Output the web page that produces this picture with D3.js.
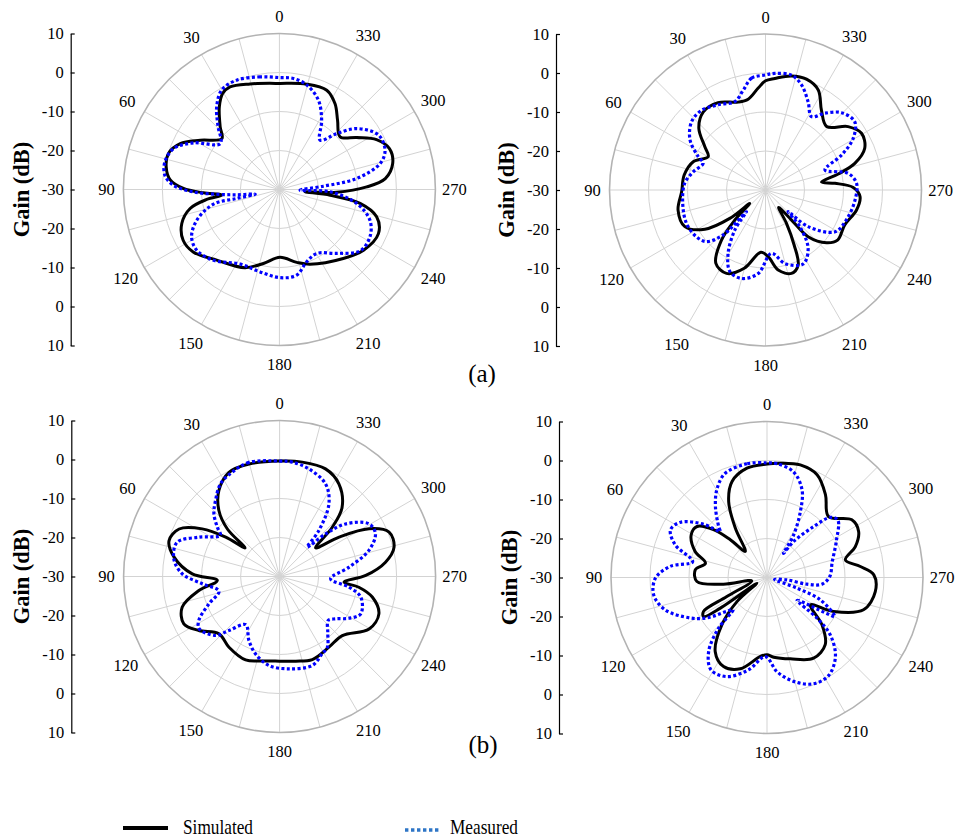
<!DOCTYPE html>
<html>
<head>
<meta charset="utf-8">
<style>
  body { margin: 0; background: #fff; }
  svg text { font-family: "Liberation Serif", "DejaVu Serif", serif; }
  .grid { fill: none; stroke: #d3d3d3; stroke-width: 1; }
  .rim { fill: none; stroke: #b3b3b3; stroke-width: 1.6; }
  .sim { fill: none; stroke: #000; stroke-width: 3; stroke-linejoin: round; }
  .meas { fill: none; stroke: #0000ff; stroke-width: 3.2; stroke-dasharray: 3 2.4; }
</style>
</head>
<body>
<svg width="958" height="839" font-family="Liberation Serif"></svg>
<script src="https://d3js.org/d3.v7.min.js"></script>
<script>
// tick labels of the left gain axis (top to bottom) and of the angle ring
const gainTicks = ["10", "0", "-10", "-20", "-30", "-20", "-10", "0", "10"];
const angleTicks = [0, 30, 60, 90, 120, 150, 180, 210, 240, 270, 300, 330];
const ringLevels = [-20, -10, 0];

// [angle in deg (ccw from top), gain in dB]
const aLeftSim = [[0,-2.8],[15.5,-1.9],[25.7,-0.8],[30.6,-1.4],[36,-3.8],[43.4,-7.9],[48.5,-10.3],[58.1,-6.1],[65.2,-2.0],[72,-0.1],[78.7,-0.4],[85,-1.9],[89.4,-5.4],[92.5,-10.5],[95.6,-15.1],[97.8,-11.2],[102,-6.6],[109.2,-3.5],[117.8,-2.1],[125.9,-2.7],[138.4,-5.8],[156.2,-8.1],[167.8,-10.6],[180.5,-12.6],[193.4,-10.8],[202.3,-9.3],[222.8,-5.9],[234.2,-3.4],[246,-2.2],[254.3,-4.1],[260.2,-9.0],[263.6,-16.9],[265,-23.4],[267.3,-15.3],[271.7,-7.6],[275.9,-2.7],[282.9,-0.2],[290.4,0.1],[297.2,-2.0],[303.9,-6.1],[311,-9.4],[320,-6.8],[327,-3.8],[334.5,-1.8],[345.5,-2.1]];
const aLeftMeas = [[0,-1.3],[9.7,-0.7],[21.3,0.1],[30.1,-0.5],[37.2,-3.4],[43.8,-7.2],[52.2,-10.8],[61.5,-4.9],[68.9,-0.9],[76.4,0.2],[82.9,-0.4],[87.7,-2.8],[91.6,-7.9],[94.3,-13.8],[97.1,-19],[100.9,-23.7],[101.9,-18.8],[102.5,-12.7],[110.4,-7.4],[118.4,-4.4],[126.3,-3.7],[137,-5.2],[152.2,-8.4],[166.8,-8.3],[180.4,-7.4],[191.4,-7.6],[200.7,-10.2],[210.3,-11],[221.9,-8],[232.7,-4],[242.4,-3.8],[251.3,-5.5],[259.7,-9.8],[267.4,-17],[268.2,-24.7],[274.3,-18.7],[278.1,-10],[284.5,-3.3],[290.4,-1.1],[298.8,-1.0],[308.3,-4.8],[314.3,-9.5],[320.5,-13.6],[328.6,-9.2],[336.4,-5],[345.3,-2.3],[352.8,-1.3]];

const aRightSim = [[0,-2.0],[4.1,-3.8],[10.8,-6.3],[17.3,-6.4],[28.5,-4.5],[38.5,-4.4],[47.2,-6.7],[54.5,-10.9],[59.8,-13],[68.6,-10.1],[79.6,-8.8],[91.1,-8.5],[102.9,-7.0],[114.4,-7.3],[122.9,-11.5],[128.5,-18.3],[130.4,-24.7],[134.4,-19],[138.7,-12.9],[145.9,-7.3],[154.9,-6.4],[164.8,-9.2],[175.7,-14],[182.3,-12.9],[189,-9.2],[197.3,-7.6],[203.5,-9.0],[207.5,-14.1],[212.2,-19.9],[217,-24.4],[220.9,-19.8],[222.4,-13.8],[229.2,-9.3],[235.2,-7.5],[246.2,-7.8],[257.6,-6.1],[266,-5.7],[271.7,-7.5],[275.5,-12.1],[278.1,-15.5],[282.4,-10.9],[286.6,-6.1],[292.8,-2.4],[300.6,-1.4],[307.5,-3.3],[316.1,-7.4],[325,-5],[332.2,-1],[339.7,0.3],[347.2,0.0],[355.2,-1.3]];
const aRightMeas = [[0,-0.5],[7.1,-1.1],[12.6,-3.8],[19.1,-6],[29.1,-5],[38.7,-3.8],[47.3,-4.2],[56.5,-6.8],[63.7,-10.8],[66.8,-12.6],[75.8,-10.9],[85.3,-9.2],[99.1,-8.5],[112.9,-8],[124.1,-8.6],[131.2,-9.9],[136.7,-14.2],[138,-20.8],[138.7,-22.6],[142.5,-17.1],[149.5,-11.1],[156.4,-7.2],[164.8,-6.5],[175,-8.5],[185.4,-13.7],[194.8,-10.5],[207,-8.7],[216.2,-11.5],[223.1,-17.1],[226.3,-22],[229.3,-15.6],[239,-9.2],[249.7,-7.9],[263.6,-6.9],[274.2,-6.6],[281.4,-8.4],[288.6,-13.9],[294.7,-8.5],[300.5,-3.9],[307.4,-1.2],[315.5,-2.2],[322.3,-5.1],[327.9,-7.8],[334.2,-4.9],[341.1,-1.5],[347.3,0.2],[355.4,0.0]];

const bLeftSim = [[0,-0.4],[15.2,-0.1],[25.9,-0.3],[35.2,-3],[42.6,-7],[47.7,-11.9],[50.4,-18.5],[53.9,-12.9],[58.4,-6.7],[64.7,-1.5],[72,-0.2],[79.6,-2.5],[88.3,-7.6],[93.7,-14],[99.8,-9],[107.5,-3.8],[116.3,-2.6],[123.8,-5.1],[133.4,-8.6],[144.4,-7.7],[157.8,-6.9],[168.4,-7.9],[180,-8.3],[190.8,-7.9],[201.5,-7.1],[214.9,-7.9],[226.7,-7.9],[239.6,-3.4],[249.4,-2.8],[257.4,-5.6],[262.3,-9.5],[265,-13.4],[270.7,-7.9],[277.7,-2.6],[284.4,0.3],[292.1,0.3],[298.1,-4],[303.5,-11.7],[308.5,-18.2],[313.1,-11.5],[317.9,-6.1],[327.4,-1.8],[336.9,0],[348.8,-0.1]];
const bLeftMeas = [[0,-0.4],[15,0.3],[24.4,-0.6],[32.5,-1.8],[40.1,-4.5],[46.3,-6.7],[51.6,-9.6],[55.2,-11.5],[64,-7],[71.5,-2.3],[80.5,-2.5],[88.4,-5],[95.4,-10.1],[103.6,-14],[111.1,-10.6],[118.6,-6.4],[123,-5.4],[132.7,-7.7],[136.8,-11],[144.9,-14.9],[154.4,-11.8],[162.8,-9.2],[173.2,-7],[185.8,-6.2],[200.2,-5.7],[208.9,-7.4],[214,-8.1],[220.1,-10.8],[228,-13.2],[232.9,-12],[239,-9.2],[245.3,-7.1],[255.7,-8.5],[261.3,-12],[267.4,-16.9],[277.7,-12],[286.2,-6.2],[294,-3.1],[300.5,-3.4],[308.6,-8.4],[312.8,-13.9],[316.7,-19.7],[319.5,-14.5],[325.8,-7.5],[333.6,-3.5],[344.8,-1.4],[353.7,-0.5]];

const bRightSim = [[0,-0.9],[10.4,-1.5],[20,-3.8],[26.8,-8.2],[32.7,-15],[39.8,-21.3],[44.2,-16.5],[48.2,-11.6],[53.9,-7.8],[60.7,-7.7],[70.1,-10.4],[76.9,-13.8],[83.9,-11.5],[93.3,-12],[98.7,-18.7],[102.5,-26],[115.4,-18.6],[118.2,-11.5],[121.6,-10.9],[123.3,-15.7],[119.5,-27],[128.7,-20.2],[136.4,-13.2],[145.1,-6.8],[154,-4.6],[163.7,-5.6],[175.2,-9.7],[180,-10.2],[184.8,-9.5],[196,-8.3],[210,-6.1],[220.9,-7.2],[229.3,-11.4],[237.8,-16.8],[243,-10.8],[251.5,-3.9],[262.6,-2],[271.4,-2.6],[276.7,-5.9],[282.7,-9.4],[289.3,-6],[296.7,-3.7],[304.2,-3.7],[314.7,-7.8],[324.8,-4],[334,-0.7],[343.5,0.1],[353.3,-0.5]];
const bRightMeas = [[0,-0.6],[10,-0.4],[21.8,-1.2],[29.2,-3.8],[36,-7.5],[43.5,-12],[45.5,-13.1],[49.9,-8.8],[57.4,-3.7],[63.7,-2.4],[70.4,-5],[78,-10.5],[83.5,-5],[90.3,-1.4],[98.7,-0.6],[107.6,-2.6],[117.9,-7.8],[124,-11.5],[130,-16.5],[133.5,-18],[136.3,-12],[141.8,-5.8],[148.8,-2.3],[158,-2.6],[168.8,-5.9],[178.8,-9.7],[186.1,-5.7],[194.4,-2.5],[203.3,-0.3],[212.1,-0.3],[220.9,-3.2],[227.8,-8.1],[230.9,-13.5],[232.9,-20.3],[238.9,-12.1],[240,-9.9],[247.3,-15.2],[250.4,-21.8],[256,-28],[263.3,-24.9],[260.5,-19.6],[263.1,-15.8],[270.9,-13.9],[283.5,-12.8],[297.4,-10],[309.1,-6.6],[313.5,-7.6],[317.5,-12.3],[323.5,-18.5],[325.6,-22.5],[328,-17.1],[333.2,-11],[338.2,-5.8],[345.8,-2.1],[355,-0.7]];

var svg = d3.select("svg");
var R = 156;
var serif = "Liberation Serif, DejaVu Serif, serif";

var panels = [
  {cx: 279.4, cy: 189.5, ax: 70.7, sim: aLeftSim, meas: aLeftMeas},
  {cx: 765.5, cy: 190, ax: 556, sim: aRightSim, meas: aRightMeas},
  {cx: 279.6, cy: 576.5, ax: 71.3, sim: bLeftSim, meas: bLeftMeas},
  {cx: 767, cy: 577.5, ax: 559, sim: bRightSim, meas: bRightMeas}
];

var rad = Math.PI / 180;
var r = d3.scaleLinear().domain([-30, 10]).range([0, R]).clamp(true);

var line = d3.lineRadial()
  .curve(d3.curveCatmullRomClosed.alpha(0.5))
  .angle(function (d) { return -d[0] * rad; })
  .radius(function (d) { return r(d[1]); });

function labelOffset(d) {
  return R + 17 + 3 * Math.abs(Math.sin(2 * d * rad)) + (String(d).length === 3 ? 2 : 0);
}

panels.forEach(function (p) {
  var g = svg.append("g").attr("transform", "translate(" + p.cx + "," + p.cy + ")");

  g.selectAll(".ring").data(ringLevels).enter().append("circle")
    .attr("class", "grid").attr("r", function (d) { return r(d); });

  g.selectAll(".spoke").data(d3.range(0, 360, 15)).enter().append("line")
    .attr("class", "grid")
    .attr("x2", function (d) { return -R * Math.sin(d * rad); })
    .attr("y2", function (d) { return -R * Math.cos(d * rad); });

  g.append("circle").attr("class", "rim").attr("r", r(10));

  g.selectAll(".alab").data(angleTicks).enter().append("text")
    .attr("font-family", serif)
    .attr("font-size", 16.5)
    .attr("text-anchor", "middle")
    .attr("dy", "0.35em")
    .attr("x", function (d) { return -labelOffset(d) * Math.sin(d * rad); })
    .attr("y", function (d) { return -labelOffset(d) * Math.cos(d * rad); })
    .text(function (d) { return d; });

  g.append("path").datum(p.sim).attr("class", "sim").attr("d", line);
  g.append("path").datum(p.meas).attr("class", "meas").attr("d", line);

  // left gain axis
  var y = d3.scaleLinear().domain([0, gainTicks.length - 1]).range([p.cy - R, p.cy + R]);
  var ax = svg.append("g")
    .attr("transform", "translate(" + p.ax + ",0)")
    .call(d3.axisLeft(y)
      .tickValues(d3.range(gainTicks.length))
      .tickFormat(function (i) { return gainTicks[i]; })
      .tickSizeInner(-4)
      .tickSizeOuter(0)
      .tickPadding(7));
  ax.attr("font-family", serif).attr("font-size", 16.5);
  ax.selectAll("path, line").attr("stroke", "#000").attr("stroke-width", 1.2);
  ax.selectAll("text").attr("fill", "#000").attr("font-family", serif);

  svg.append("text")
    .attr("transform", "translate(" + (p.ax - 42) + "," + p.cy + ") rotate(-90)")
    .attr("text-anchor", "middle")
    .attr("font-family", serif)
    .attr("font-weight", "bold")
    .attr("font-size", 22.5)
    .text("Gain (dB)");
});

svg.append("text").attr("x", 482).attr("y", 382).attr("text-anchor", "middle")
  .attr("font-family", serif).attr("font-size", 25).text("(a)");
svg.append("text").attr("x", 483).attr("y", 753).attr("text-anchor", "middle")
  .attr("font-family", serif).attr("font-size", 25).text("(b)");

// legend
svg.append("line").attr("x1", 123).attr("x2", 168).attr("y1", 828).attr("y2", 828)
  .attr("stroke", "#000").attr("stroke-width", 4);
svg.append("text").attr("x", 183).attr("y", 833.5).attr("font-size", 22)
  .attr("font-family", serif)
  .attr("textLength", 70).attr("lengthAdjust", "spacingAndGlyphs").text("Simulated");
svg.append("line").attr("x1", 405).attr("x2", 439).attr("y1", 830).attr("y2", 830)
  .attr("stroke", "#2e75c6").attr("stroke-width", 3.5).attr("stroke-dasharray", "3.4 2.6");
svg.append("text").attr("x", 450).attr("y", 833.5).attr("font-size", 22)
  .attr("font-family", serif)
  .attr("textLength", 68).attr("lengthAdjust", "spacingAndGlyphs").text("Measured");
</script>
</body>
</html>
